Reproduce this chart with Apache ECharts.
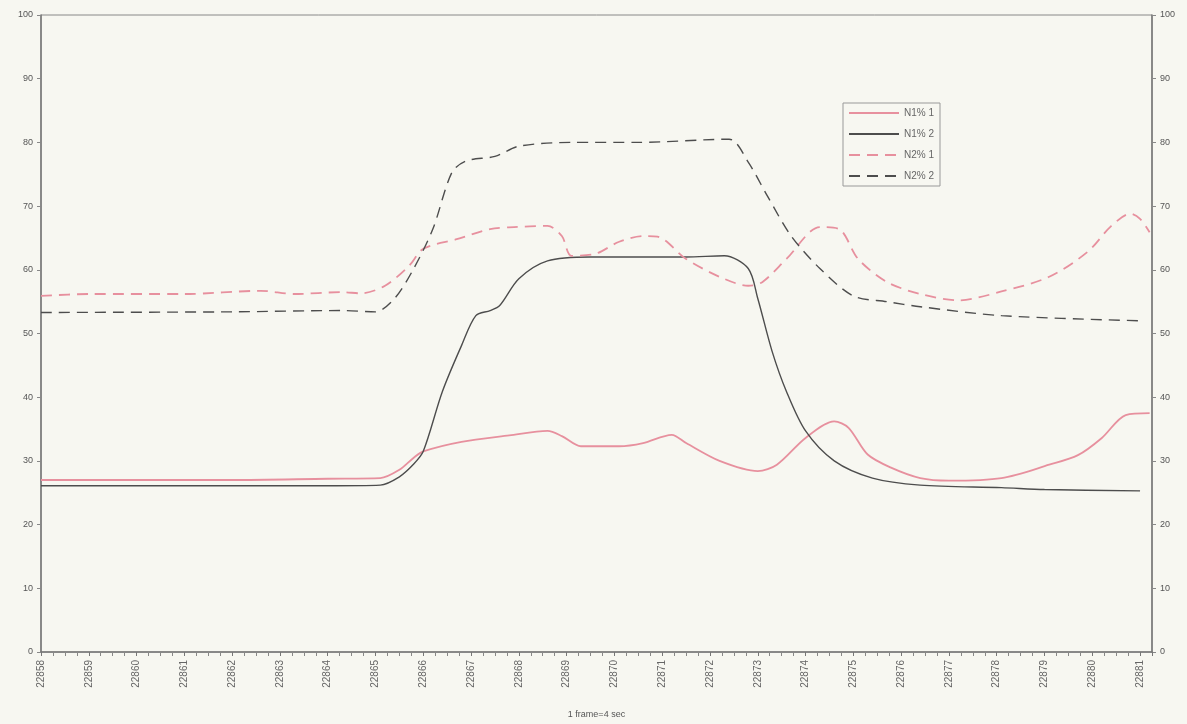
<!DOCTYPE html>
<html>
<head>
<meta charset="utf-8">
<script src="https://cdn.jsdelivr.net/npm/echarts@6/dist/echarts.min.js"></script>
<style>
  html, body { margin: 0; padding: 0; background: #f7f7f1; }
  #chart { width: 1187px; height: 724px; }
</style>
</head>
<body>
<div id="chart"></div>
<script>
// x positions are in frame-label units (22858 ... 22881)
const n11X = [22858, 22862, 22864, 22865.1, 22865.5, 22865.8, 22866.0, 22866.8, 22867.8, 22868.6, 22868.9, 22869.3, 22870.1, 22870.6, 22871.2, 22871.5, 22872.2, 22873.0, 22873.4, 22874.0, 22874.6, 22874.9, 22875.3, 22875.8, 22876.4, 22877.0, 22878.1, 22879.1, 22879.7, 22880.2, 22880.7, 22881.2];
const n11Y = [27.0, 27.0, 27.2, 27.3, 28.6, 30.5, 31.5, 33.0, 34.0, 34.7, 33.9, 32.3, 32.3, 32.8, 34.1, 32.8, 30.0, 28.4, 29.4, 33.6, 36.2, 35.2, 31.0, 28.9, 27.3, 26.9, 27.3, 29.4, 30.9, 33.6, 37.2, 37.5];

const n12X = [22858, 22864, 22865.1, 22865.5, 22865.8, 22866.0, 22866.4, 22866.8, 22867.1, 22867.4, 22867.6, 22868.0, 22868.6, 22869.5, 22870.5, 22871.5, 22872.3, 22872.8, 22873.0, 22873.3, 22873.6, 22874.0, 22874.6, 22875.4, 22876.4, 22878.1, 22879.0, 22881.0];
const n12Y = [26.1, 26.1, 26.2, 27.5, 29.5, 31.5, 40.9, 48.1, 52.8, 53.6, 54.4, 58.6, 61.4, 62.0, 62.0, 62.0, 62.2, 60.2, 55.5, 47.2, 40.9, 34.7, 30.0, 27.3, 26.2, 25.8, 25.5, 25.3];

const n21X = [22858, 22859, 22861, 22862.6, 22863.3, 22864.3, 22864.7, 22865.2, 22865.7, 22866.0, 22866.7, 22867.4, 22867.9, 22868.6, 22868.9, 22869.1, 22869.6, 22870.1, 22870.6, 22870.9, 22871.5, 22872.2, 22872.8, 22873.1, 22873.6, 22874.3, 22874.7, 22875.1, 22875.7, 22876.4, 22877.2, 22878.1, 22879.1, 22879.9, 22880.4, 22880.8, 22881.0, 22881.2];
const n21Y = [55.9, 56.2, 56.2, 56.7, 56.2, 56.5, 56.3, 57.5, 60.6, 63.3, 64.8, 66.4, 66.7, 66.9, 65.3, 62.2, 62.5, 64.4, 65.3, 65.2, 61.7, 58.9, 57.5, 58.1, 61.7, 66.7, 66.4, 61.7, 58.1, 56.2, 55.2, 56.6, 58.9, 62.8, 66.9, 68.8, 68.0, 65.9];

const n22X = [22858, 22862, 22864.3, 22865.0, 22865.4, 22865.8, 22866.2, 22866.6, 22866.9, 22867.5, 22868.0, 22869.1, 22870.5, 22872.4, 22872.8, 22873.2, 22873.7, 22874.3, 22875.0, 22875.7, 22876.4, 22878.1, 22881.0];
const n22Y = [53.3, 53.4, 53.6, 53.4, 55.5, 60.2, 66.4, 75.3, 77.1, 77.8, 79.4, 80.0, 80.0, 80.5, 76.9, 71.6, 65.3, 60.2, 55.9, 55.0, 54.2, 52.8, 52.0];

const seriesNames = ['N1% 1', 'N1% 2', 'N2% 1', 'N2% 2'];
const xAxisName = '1 frame=4 sec';

const pink = '#e7909e';
const dark = '#4d4d4d';

function pairs(xs, ys) {
  return xs.map((x, i) => [x, ys[i]]);
}

let chartDom = document.getElementById('chart');
let myChart = echarts.init(chartDom);

const yAxisBase = {
  type: 'value',
  min: 0,
  max: 100,
  interval: 10,
  splitLine: { show: false },
  axisLine: { show: true, lineStyle: { color: '#777', width: 1.5 } },
  axisTick: { show: true, length: 4, lineStyle: { color: '#888' } },
  axisLabel: { color: '#555', fontSize: 9, fontFamily: 'Liberation Sans' }
};

function lineSeries(name, xs, ys, color, width, dashed) {
  return {
    name: name,
    type: 'line',
    data: pairs(xs, ys),
    showSymbol: false,
    symbol: 'none',
    smooth: 0.3,
    color: color,
    lineStyle: { color: color, width: width, type: dashed ? [11, 7] : 'solid' }
  };
}

let option = {
  backgroundColor: '#f7f7f1',
  animation: false,
  grid: {
    left: 41,
    right: 35,
    top: 15,
    bottom: 69,
    show: true,
    borderColor: '#888',
    borderWidth: 1
  },
  legend: {
    data: seriesNames,
    orient: 'vertical',
    left: 843,
    top: 103,
    itemWidth: 50,
    itemHeight: 10,
    itemGap: 11,
    padding: [5, 6, 5, 5],
    borderColor: '#999',
    borderWidth: 1,
    itemStyle: { opacity: 0 },
    textStyle: { color: '#666', fontSize: 10, fontFamily: 'Liberation Sans' }
  },
  xAxis: {
    type: 'value',
    min: 22858,
    max: 22881.25,
    interval: 1,
    name: xAxisName,
    nameLocation: 'middle',
    nameGap: 58,
    nameTextStyle: { color: '#555', fontSize: 9, fontFamily: 'Liberation Sans' },
    splitLine: { show: false },
    axisLine: { lineStyle: { color: '#777', width: 1.5 } },
    axisTick: { show: true, length: 4, lineStyle: { color: '#777' } },
    minorTick: { show: true, splitNumber: 4, length: 4, lineStyle: { color: '#888' } },
    axisLabel: {
      rotate: 90,
      color: '#666',
      fontSize: 10,
      fontFamily: 'Liberation Sans',
      margin: 8,
      formatter: function (v) {
        return Number.isInteger(v) ? String(v) : '';
      }
    }
  },
  yAxis: [
    Object.assign({ position: 'left' }, yAxisBase),
    Object.assign({ position: 'right' }, yAxisBase)
  ],
  series: [
    lineSeries(seriesNames[0], n11X, n11Y, pink, 1.8, false),
    lineSeries(seriesNames[1], n12X, n12Y, dark, 1.4, false),
    lineSeries(seriesNames[2], n21X, n21Y, pink, 1.8, true),
    lineSeries(seriesNames[3], n22X, n22Y, dark, 1.4, true)
  ]
};

option && myChart.setOption(option);
</script>
</body>
</html>
